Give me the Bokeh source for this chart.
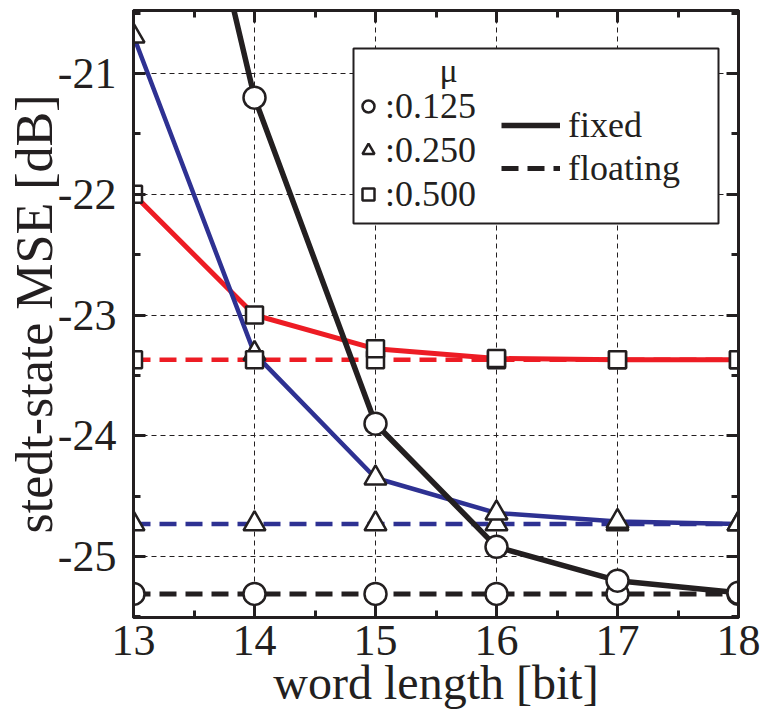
from bokeh.plotting import figure
from bokeh.models import (FixedTicker, LinearAxis, Range1d, Legend, LegendItem,
                          BoxAnnotation, Label)
from bokeh.embed import file_html
from bokeh.resources import INLINE

# ---------------- data ----------------
word_length = [13, 14, 15, 16, 17, 18]
mu_labels = [":0.125", ":0.250", ":0.500"]

fixed_mu0125 = [-16.95, -21.2, -23.9, -24.92, -25.2, -25.3]
fixed_mu0250 = [-20.69, -23.32, -24.35, -24.64, -24.71, -24.73]
fixed_mu0500 = [-22.0, -23.0, -23.28, -23.36, -23.37, -23.37]

floating_mu0125 = [-25.31, -25.31, -25.31, -25.31, -25.31, -25.31]
floating_mu0250 = [-24.73, -24.73, -24.73, -24.73, -24.73, -24.73]
floating_mu0500 = [-23.37, -23.37, -23.37, -23.37, -23.37, -23.37]

x_major = [13, 14, 15, 16, 17, 18]
x_minor = [13.5, 14.5, 15.5, 16.5, 17.5]
y_major = [-25, -24, -23, -22, -21]
y_minor = [-25.5, -24.5, -23.5, -22.5, -21.5, -20.5]
y_tick_labels = ["-25", "-24", "-23", "-22", "-21"]

BLACK = "#231f20"
BLUE = "#2e3192"
RED = "#ed1c24"
FONT = "Liberation Serif"

p = figure(width=760, height=712, output_backend="svg", toolbar_location=None,
           x_range=Range1d(13, 18), y_range=Range1d(-25.505, -20.478),
           min_border_left=133, min_border_right=22, min_border_top=10,
           min_border_bottom=95, x_axis_location=None, y_axis_location=None)
p.outline_line_color = BLACK
p.outline_line_width = 3
p.background_fill_color = "white"
p.border_fill_color = "white"


def make_axis(side, ticks, minor, labels=True, overrides=None):
    ax = LinearAxis(ticker=FixedTicker(ticks=ticks, minor_ticks=minor))
    ax.axis_line_color = BLACK
    ax.axis_line_width = 3
    ax.major_tick_in = 12
    ax.major_tick_out = 0
    ax.minor_tick_in = 7
    ax.minor_tick_out = 0
    ax.major_tick_line_color = BLACK
    ax.major_tick_line_width = 3
    ax.minor_tick_line_color = BLACK
    ax.minor_tick_line_width = 3
    if labels:
        ax.major_label_text_font = FONT
        ax.major_label_text_font_size = "44px"
        ax.major_label_text_color = BLACK
        if overrides:
            ax.major_label_overrides = overrides
    else:
        ax.major_label_overrides = {t: "" for t in ticks}
        ax.major_label_text_font_size = "1px"
        ax.major_label_standoff = 0
    p.add_layout(ax, side)
    return ax


xb = make_axis("below", x_major, x_minor)
xb.axis_label = "word length [bit]"
xb.axis_label_text_font = FONT
xb.axis_label_text_font_size = "48px"
xb.axis_label_text_font_style = "normal"
xb.axis_label_text_color = BLACK
xb.major_label_standoff = 8
xb.axis_label_standoff = -2

yl = make_axis("left", y_major, y_minor,
               overrides={v: s for v, s in zip(y_major, y_tick_labels)})
yl.axis_label = "stedt-state MSE [dB]"
yl.axis_label_text_font = FONT
yl.axis_label_text_font_size = "52px"
yl.axis_label_text_font_style = "normal"
yl.axis_label_text_color = BLACK
yl.major_label_standoff = 17
yl.axis_label_standoff = -8

make_axis("above", x_major, x_minor, labels=False)
make_axis("right", y_major, y_minor, labels=False)

p.xgrid.ticker = FixedTicker(ticks=x_major)
p.ygrid.ticker = FixedTicker(ticks=y_major)
for g in (p.xgrid, p.ygrid):
    g.grid_line_color = BLACK
    g.grid_line_width = 1
    g.grid_line_dash = "5 4"

# floating (dashed) lines
fl_k = p.line(word_length, floating_mu0125, line_color=BLACK, line_width=5, line_dash="17 9")
fl_b = p.line(word_length, floating_mu0250, line_color=BLUE, line_width=4.5, line_dash="17 9")
fl_r = p.line(word_length, floating_mu0500, line_color=RED, line_width=4.5, line_dash="17 9")

# fixed (solid) lines
fx_r = p.line(word_length, fixed_mu0500, line_color=RED, line_width=5)
fx_b = p.line(word_length, fixed_mu0250, line_color=BLUE, line_width=4.5)
fx_k = p.line(word_length, fixed_mu0125, line_color=BLACK, line_width=5.5)

mk = dict(fill_color="white", line_color=BLACK, line_width=2.5)
sc_k = p.scatter(word_length, floating_mu0125, marker="circle", size=22, **mk)
p.scatter(word_length, fixed_mu0125, marker="circle", size=22, **mk)
sc_b = p.scatter(word_length, floating_mu0250, marker="triangle", size=22, **mk)
p.scatter(word_length, fixed_mu0250, marker="triangle", size=22, **mk)
sc_r = p.scatter(word_length, floating_mu0500, marker="square", size=17, **mk)
p.scatter(word_length, fixed_mu0500, marker="square", size=17, **mk)

# legend frame
box = BoxAnnotation(left=220, right=585, top=569, bottom=394,
                    left_units="screen", right_units="screen",
                    top_units="screen", bottom_units="screen",
                    fill_color="white", fill_alpha=1.0,
                    line_color=BLACK, line_width=2, line_alpha=1.0)
p.add_layout(box)

mu_title = Label(x=315, y=547, x_units="screen", y_units="screen", text="μ",
                 text_font=FONT, text_font_size="34px", text_color=BLACK,
                 text_align="center", text_baseline="middle")
p.add_layout(mu_title)

legA = Legend(items=[LegendItem(label=mu_labels[0], renderers=[sc_k]),
                     LegendItem(label=mu_labels[1], renderers=[sc_b]),
                     LegendItem(label=mu_labels[2], renderers=[sc_r])],
              location=(220, 402), padding=0, margin=0, spacing=2,
              glyph_width=30, glyph_height=30, label_standoff=2,
              label_text_font=FONT, label_text_font_size="36px",
              label_text_color=BLACK, border_line_color=None,
              background_fill_alpha=0)
legB = Legend(items=[LegendItem(label="fixed", renderers=[fx_k]),
                     LegendItem(label="floating", renderers=[fl_k])],
              location=(368, 428), padding=0, margin=0, spacing=1,
              glyph_width=59, glyph_height=30, label_standoff=8,
              label_text_font=FONT, label_text_font_size="36px",
              label_text_color=BLACK, border_line_color=None,
              background_fill_alpha=0)
p.add_layout(legA)
p.add_layout(legB)

open("out.html", "w").write(file_html(p, INLINE))
